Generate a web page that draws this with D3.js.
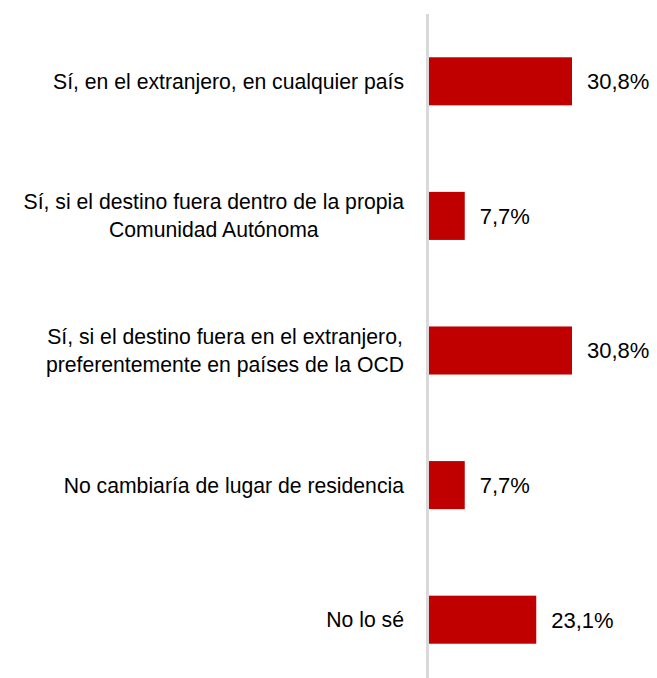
<!DOCTYPE html>
<html>
<head>
<meta charset="utf-8">
<script src="https://cdn.jsdelivr.net/npm/d3@7"></script>
<style>
  body { margin: 0; background: #fff; }
  text { font-family: "Liberation Sans", Arial, sans-serif; fill: #000; }
</style>
</head>
<body>
<svg id="chart" width="657" height="678"></svg>
<script>
var categories = [
  ["Sí, en el extranjero, en cualquier país"],
  ["Sí, si el destino fuera dentro de la propia", "Comunidad Autónoma"],
  ["Sí, si el destino fuera en el extranjero,", "preferentemente en países de la OCD"],
  ["No cambiaría de lugar de residencia"],
  ["No lo sé"]
];
var values = [30.8, 7.7, 30.8, 7.7, 23.1];
var valueLabels = ["30,8%", "7,7%", "30,8%", "7,7%", "23,1%"];

var svg = d3.select("#chart");
var axisX = 429;

var x = d3.scaleLinear().domain([0, 35]).range([axisX, axisX + 35 * 4.643]);
var y = d3.scaleBand().domain(d3.range(values.length)).range([14, 687]).paddingInner(0.643).paddingOuter(0.3215);

// bars
svg.selectAll("rect.bar").data(values).enter().append("rect")
  .attr("class", "bar")
  .attr("x", x(0))
  .attr("y", function(d, i) { return y(i); })
  .attr("width", function(d) { return x(d) - x(0); })
  .attr("height", y.bandwidth())
  .attr("fill", "#c00000");

// vertical axis line
svg.append("line")
  .attr("x1", axisX - 1.5).attr("x2", axisX - 1.5)
  .attr("y1", 14).attr("y2", 678)
  .attr("stroke", "#d9d9d9").attr("stroke-width", 3);

// value labels
svg.selectAll("text.val").data(values).enter().append("text")
  .attr("class", "val")
  .attr("x", function(d) { return x(d) + 15; })
  .attr("y", function(d, i) { return y(i) + y.bandwidth() / 2; })
  .attr("dy", "0.36em")
  .attr("font-size", 22)
  .text(function(d, i) { return valueLabels[i]; });

// category labels, lines centered within a right-aligned block
var lineH = 28;
var rightEdge = 404;
categories.forEach(function(lines, i) {
  var g = svg.append("g");
  var cy = y(i) + y.bandwidth() / 2;
  var texts = lines.map(function(s, k) {
    return g.append("text")
      .attr("font-size", 21.2)
      .attr("text-anchor", "middle")
      .attr("y", cy + (k - (lines.length - 1) / 2) * lineH)
      .attr("dy", "0.35em")
      .text(s);
  });
  var maxW = d3.max(texts, function(t) { return t.node().getComputedTextLength(); });
  texts.forEach(function(t) { t.attr("x", rightEdge - maxW / 2); });
});
</script>
</body>
</html>
